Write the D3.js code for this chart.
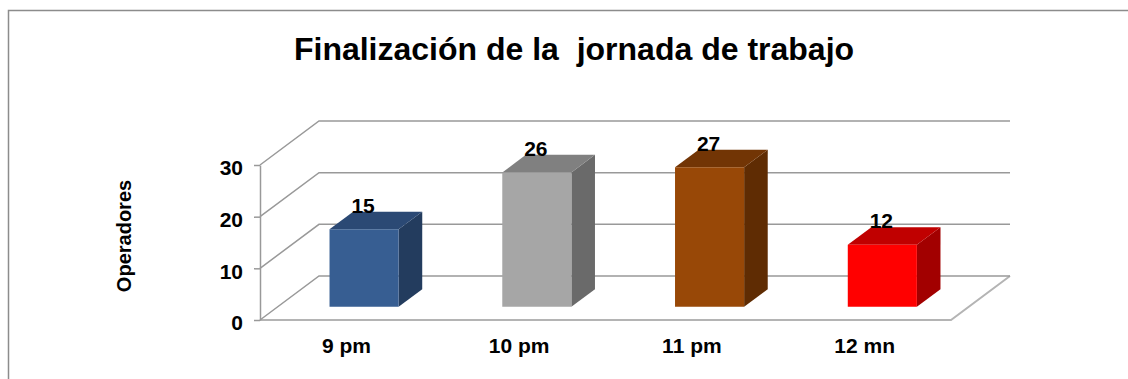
<!DOCTYPE html>
<html>
<head>
<meta charset="utf-8">
<script src="https://cdn.jsdelivr.net/npm/d3@7"></script>
<style>
  html, body { margin: 0; padding: 0; background: #fff; }
  svg { display: block; font-family: "Liberation Sans", Arial, Helvetica, sans-serif; }
  text { white-space: pre; }
</style>
</head>
<body>
<script>
// Operators finishing their shift, by end time
const categories = ["9 pm", "10 pm", "11 pm", "12 mn"];
const values = [15, 26, 27, 12];
const yTicks = [0, 10, 20, 30];
const titleText = "Finalización de la  jornada de trabajo";
const yTitle = "Operadores";

// face shades per bar: front, top, side
const palette = [
  ["#375E92", "#2B4974", "#233C5E"],
  ["#A6A6A6", "#808080", "#6A6A6A"],
  ["#984807", "#723505", "#5F2C03"],
  ["#FF0000", "#C00000", "#A20000"]
];

const W = 1128, H = 379;
const svg = d3.select("body").append("svg")
  .attr("width", W).attr("height", H);

// outer frame
svg.append("path")
  .attr("d", `M8.5,${H} V10.5 H${W}`)
  .attr("fill", "none").attr("stroke", "#8c8c8c").attr("stroke-width", 1.5);

// title
svg.append("text")
  .attr("x", 574).attr("y", 60)
  .attr("text-anchor", "middle")
  .attr("font-weight", "bold").attr("font-size", 32)
  .attr("fill", "#000")
  .text(titleText);

// plot geometry: oblique 3D projection
const plotLeft = 260, plotRight = 951, plotBottom = 320, plotTop = 165;
const depth = { dx: 59, dy: -44 };
const frontFrac = 0.3, depthFrac = 0.4;

const x = d3.scaleBand().domain(categories).range([plotLeft, plotRight])
  .paddingInner(0.6).paddingOuter(0.3);
const xCat = d3.scaleBand().domain(categories).range([plotLeft, plotRight]);
const y = d3.scaleLinear().domain([0, 30]).range([plotBottom, plotTop]);

const P = (px, v, d) => [px + d * depth.dx, y(v) + d * depth.dy];

const grid = svg.append("g")
  .attr("fill", "none").attr("stroke", "#999").attr("stroke-width", 1.5);

// floor (white) with its front and right edges
grid.append("path")
  .attr("d", d3.line()([P(plotLeft, 0, 0), P(plotRight, 0, 0), P(plotRight, 0, 1), P(plotLeft, 0, 1)]) + "Z")
  .attr("fill", "#fff").attr("stroke", "none");
grid.append("path")
  .attr("d", d3.line()([P(plotLeft, 0, 0), P(plotRight, 0, 0), P(plotRight, 0, 1)]))
  .attr("stroke", "#b4b4b4").attr("stroke-width", 2);

// side wall diagonals and back wall gridlines
yTicks.forEach(t => {
  grid.append("path")
    .attr("d", d3.line()([P(plotLeft, t, 0), P(plotLeft, t, 1), P(plotRight, t, 1)]));
});

// value axis with ticks
const yAxis = svg.append("g")
  .attr("transform", `translate(${plotLeft},0)`)
  .call(d3.axisLeft(y).tickValues(yTicks).tickSize(6).tickSizeOuter(0).tickPadding(11));
yAxis.select(".domain").attr("stroke", "#999").attr("stroke-width", 1.5);
yAxis.selectAll(".tick line").attr("stroke", "#999").attr("stroke-width", 1.5);
yAxis.selectAll(".tick text")
  .attr("font-size", 21).attr("font-weight", "bold")
  .attr("font-family", "Liberation Sans, Arial, sans-serif")
  .attr("fill", "#000").attr("dy", "0.47em");

// axis title
svg.append("text")
  .attr("transform", "translate(131,236) rotate(-90)")
  .attr("text-anchor", "middle")
  .attr("font-weight", "bold").attr("font-size", 20)
  .attr("fill", "#000")
  .text(yTitle);

// category axis
const xAxis = svg.append("g")
  .attr("transform", `translate(0,${plotBottom})`)
  .call(d3.axisBottom(xCat).tickSize(0));
xAxis.select(".domain").remove();
xAxis.selectAll(".tick text")
  .attr("y", 33).attr("dy", 0)
  .attr("font-size", 21).attr("font-weight", "bold")
  .attr("font-family", "Liberation Sans, Arial, sans-serif")
  .attr("fill", "#000");

// 3D bars
const bars = svg.append("g");
categories.forEach((c, i) => {
  const v = values[i];
  const x0 = x(c), x1 = x0 + x.bandwidth();
  const f = frontFrac, b = frontFrac + depthFrac;
  const [front, topC, side] = palette[i];
  const g = bars.append("g");
  g.append("path")
    .attr("d", d3.line()([P(x1, 0, f), P(x1, 0, b), P(x1, v, b), P(x1, v, f)]) + "Z")
    .attr("fill", side);
  g.append("path")
    .attr("d", d3.line()([P(x0, v, f), P(x1, v, f), P(x1, v, b), P(x0, v, b)]) + "Z")
    .attr("fill", topC);
  g.append("path")
    .attr("d", d3.line()([P(x0, 0, f), P(x1, 0, f), P(x1, v, f), P(x0, v, f)]) + "Z")
    .attr("fill", front);
  // value label: centred over the front face, resting on the top's back edge
  const lx = P((x0 + x1) / 2, v, f)[0] - 1;
  const ly = P(x0, v, b)[1] + 1;
  g.append("text")
    .attr("x", lx).attr("y", ly)
    .attr("text-anchor", "middle")
    .attr("font-weight", "bold").attr("font-size", 21)
    .attr("fill", "#000")
    .text(v);
});
</script>
</body>
</html>
